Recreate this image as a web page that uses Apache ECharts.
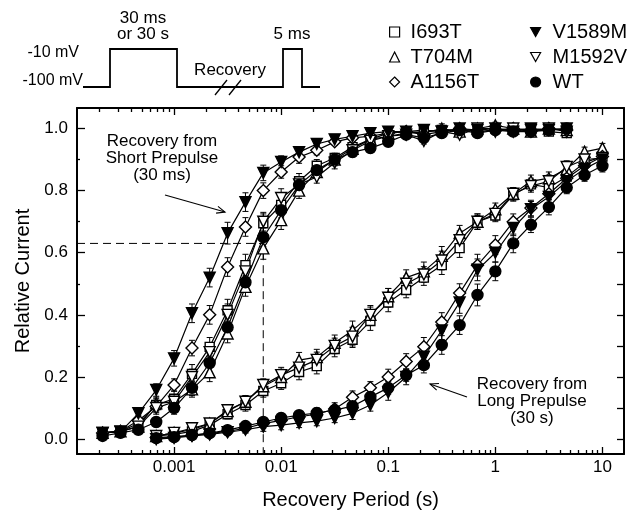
<!DOCTYPE html>
<html>
<head>
<meta charset="UTF-8">
<title>Recovery from inactivation</title>
<script src="https://cdn.jsdelivr.net/npm/echarts@6/dist/echarts.min.js"></script>
<style>html,body{margin:0;padding:0;background:#fff}</style>
</head>
<body>
<div id="chart" style="width:633px;height:515px;"></div>
<script>
// recovery periods (s), 6 points per decade
const SHORT_T = [0.000215, 0.000316, 0.000464, 0.000681, 0.001, 0.00147, 0.00215, 0.00316, 0.00464, 0.00681,
  0.01, 0.0147, 0.0215, 0.0316, 0.0464, 0.0681, 0.1, 0.147, 0.215, 0.316, 0.464, 0.681, 1, 1.47, 2.15, 3.16, 4.64];
const LONG_T = [0.000681, 0.001, 0.00147, 0.00215, 0.00316, 0.00464, 0.00681, 0.01, 0.0147, 0.0215, 0.0316,
  0.0464, 0.0681, 0.1, 0.147, 0.215, 0.316, 0.464, 0.681, 1, 1.47, 2.15, 3.16, 4.64, 6.81, 10];

// short prepulse (30 ms)
const S_I693T  = [0.02,0.025,0.05,0.11,0.13,0.21,0.297,0.415,0.56,0.695,0.754,0.83,0.88,0.905,0.94,0.965,0.975,0.985,0.99,0.995,0.99,1.0,1.0,0.995,1.0,0.99,0.985];
const S_T704M  = [0.02,0.025,0.04,0.115,0.12,0.16,0.215,0.34,0.49,0.614,0.705,0.80,0.86,0.90,0.935,0.965,0.985,0.99,0.985,1.0,0.99,1.0,1.01,1.0,0.99,1.0,0.995];
const S_A1156T = [0.02,0.025,0.06,0.105,0.174,0.293,0.40,0.554,0.683,0.80,0.86,0.908,0.93,0.957,0.97,0.975,0.985,0.99,0.98,0.99,1.0,0.99,0.995,1.0,0.99,1.0,0.995];
const S_V1589M = [0.02,0.023,0.083,0.158,0.26,0.405,0.52,0.663,0.763,0.857,0.892,0.924,0.95,0.965,0.975,0.985,0.99,0.99,0.995,0.99,1.0,0.995,1.0,0.99,1.0,0.995,1.0];
const S_M1592V = [0.02,0.025,0.04,0.10,0.12,0.2,0.28,0.40,0.54,0.70,0.776,0.82,0.844,0.89,0.93,0.96,0.975,0.98,0.96,0.99,0.98,1.0,0.99,1.0,0.995,1.0,0.99];
const S_WT     = [0.01,0.02,0.03,0.055,0.10,0.165,0.245,0.36,0.505,0.65,0.737,0.818,0.866,0.90,0.924,0.937,0.957,0.98,0.97,0.985,0.995,0.985,0.995,0.99,0.99,0.995,1.0];

// long prepulse (30 s)
const L_I693T  = [0.01,0.015,0.025,0.045,0.08,0.11,0.155,0.18,0.216,0.235,0.29,0.32,0.38,0.44,0.48,0.52,0.56,0.615,0.70,0.72,0.786,0.82,0.81,0.845,0.89,0.91];
const L_T704M  = [0.01,0.02,0.03,0.05,0.09,0.12,0.17,0.2,0.254,0.264,0.31,0.35,0.40,0.46,0.52,0.54,0.59,0.663,0.70,0.74,0.79,0.83,0.84,0.87,0.925,0.937];
const L_A1156T = [0.005,0.008,0.012,0.018,0.025,0.035,0.05,0.06,0.072,0.08,0.097,0.135,0.165,0.2,0.25,0.297,0.377,0.47,0.56,0.625,0.70,0.744,0.79,0.84,0.88,0.91];
const L_V1589M = [0.0,0.004,0.01,0.015,0.022,0.03,0.04,0.045,0.052,0.058,0.068,0.083,0.11,0.15,0.2,0.265,0.35,0.44,0.545,0.6,0.68,0.74,0.78,0.83,0.87,0.9];
const L_M1592V = [0.01,0.02,0.035,0.05,0.093,0.12,0.174,0.206,0.23,0.255,0.30,0.33,0.40,0.455,0.50,0.53,0.575,0.64,0.70,0.725,0.79,0.815,0.83,0.876,0.90,0.905];
const L_WT     = [0.003,0.006,0.013,0.019,0.029,0.042,0.055,0.068,0.077,0.084,0.093,0.106,0.136,0.165,0.206,0.238,0.303,0.367,0.464,0.54,0.63,0.69,0.747,0.81,0.85,0.88];

// error bars (SEM)
const SE_I693T  = [0.01,0.01,0.015,0.02,0.025,0.03,0.03,0.035,0.035,0.03,0.03,0.025,0.02,0.015,0.015,0.01,0.01,0.01,0.01,0.01,0.01,0.01,0.01,0.01,0.01,0.01,0.01];
const SE_T704M  = [0.01,0.01,0.015,0.02,0.02,0.025,0.03,0.03,0.03,0.035,0.03,0.025,0.02,0.02,0.015,0.01,0.01,0.01,0.01,0.015,0.01,0.01,0.01,0.01,0.01,0.01,0.01];
const SE_A1156T = [0.01,0.01,0.015,0.02,0.02,0.025,0.03,0.03,0.03,0.025,0.02,0.02,0.015,0.01,0.01,0.01,0.01,0.01,0.01,0.01,0.01,0.01,0.01,0.01,0.01,0.01,0.01];
const SE_V1589M = [0.01,0.01,0.015,0.02,0.025,0.03,0.03,0.035,0.03,0.025,0.02,0.015,0.015,0.01,0.01,0.01,0.01,0.01,0.01,0.01,0.01,0.01,0.01,0.01,0.01,0.01,0.01];
const SE_M1592V = [0.01,0.01,0.015,0.02,0.02,0.025,0.03,0.035,0.03,0.03,0.03,0.025,0.02,0.02,0.015,0.01,0.01,0.015,0.01,0.01,0.01,0.01,0.01,0.01,0.01,0.01,0.01];
const SE_WT     = [0.01,0.01,0.01,0.015,0.02,0.025,0.03,0.03,0.03,0.03,0.025,0.02,0.02,0.015,0.015,0.01,0.01,0.01,0.01,0.01,0.01,0.01,0.01,0.01,0.01,0.01,0.01];
const LE_I693T  = [0.01,0.01,0.01,0.015,0.015,0.02,0.02,0.02,0.025,0.025,0.025,0.025,0.03,0.03,0.025,0.025,0.03,0.03,0.025,0.02,0.02,0.02,0.02,0.02,0.015,0.015];
const LE_T704M  = [0.01,0.01,0.01,0.015,0.015,0.02,0.02,0.025,0.025,0.025,0.025,0.03,0.03,0.025,0.025,0.03,0.03,0.025,0.02,0.02,0.02,0.02,0.02,0.02,0.015,0.015];
const LE_A1156T = [0.01,0.01,0.01,0.01,0.01,0.015,0.015,0.015,0.015,0.02,0.02,0.02,0.02,0.025,0.025,0.03,0.03,0.03,0.035,0.03,0.025,0.025,0.02,0.02,0.015,0.015];
const LE_V1589M = [0.01,0.01,0.01,0.01,0.01,0.01,0.015,0.015,0.015,0.015,0.015,0.02,0.02,0.025,0.025,0.03,0.03,0.035,0.035,0.03,0.025,0.025,0.02,0.02,0.015,0.015];
const LE_M1592V = [0.01,0.01,0.01,0.015,0.015,0.02,0.02,0.025,0.02,0.025,0.025,0.03,0.025,0.03,0.025,0.025,0.03,0.03,0.025,0.02,0.02,0.02,0.02,0.02,0.015,0.015];
const LE_WT     = [0.01,0.01,0.01,0.01,0.01,0.01,0.01,0.015,0.015,0.015,0.015,0.015,0.02,0.02,0.02,0.025,0.03,0.03,0.035,0.03,0.03,0.025,0.025,0.02,0.02,0.02];

// axes
const X_RANGE = [0.000124, 15.9];
const Y_RANGE = [-0.048, 1.066];
const X_MAJOR = [0.001, 0.01, 0.1, 1, 10];
const X_LABELS = ['0.001', '0.01', '0.1', '1', '10'];
const X_MINOR = [0.0002,0.0003,0.0004,0.0005,0.0006,0.0007,0.0008,0.0009,
  0.002,0.003,0.004,0.005,0.006,0.007,0.008,0.009,
  0.02,0.03,0.04,0.05,0.06,0.07,0.08,0.09,
  0.2,0.3,0.4,0.5,0.6,0.7,0.8,0.9,
  2,3,4,5,6,7,8,9];
const Y_MAJOR = [0, 0.2, 0.4, 0.6, 0.8, 1.0];
const Y_LABELS = ['0.0', '0.2', '0.4', '0.6', '0.8', '1.0'];
const Y_MINOR = [0.1, 0.3, 0.5, 0.7, 0.9];
const Y_RIGHT = [0, 0.1, 0.2, 0.3, 0.4, 0.5, 0.6, 0.7, 0.8, 0.9, 1.0];

// time constant guide (dashed)
const DASH_T = [0.000124, 0.0068, 0.0068];
const DASH_V = [0.63, 0.63, -0.048];

const FONT = '"Liberation Sans", Arial, sans-serif';
const lg = Math.log10;
const BLACK = '#000';

const MARKS = {
  I693T:  { symbol: 'rect', size: 9, fill: '#fff', rotate: 0 },
  T704M:  { symbol: 'triangle', size: 11, fill: '#fff', rotate: 0 },
  A1156T: { symbol: 'diamond', size: 12, fill: '#fff', rotate: 0 },
  M1592V: { symbol: 'triangle', size: 11, fill: '#fff', rotate: 180 },
  V1589M: { symbol: 'triangle', size: 11, fill: '#000', rotate: 180 },
  WT:     { symbol: 'circle', size: 11, fill: '#000', rotate: 0 }
};

const groups = [
  ['I693T', S_I693T, SE_I693T, L_I693T, LE_I693T],
  ['T704M', S_T704M, SE_T704M, L_T704M, LE_T704M],
  ['A1156T', S_A1156T, SE_A1156T, L_A1156T, LE_A1156T],
  ['M1592V', S_M1592V, SE_M1592V, L_M1592V, LE_M1592V],
  ['V1589M', S_V1589M, SE_V1589M, L_V1589M, LE_V1589M],
  ['WT', S_WT, SE_WT, L_WT, LE_WT]
];

function lineSeries(name, ts, vs) {
  const m = MARKS[name];
  return {
    name: name, type: 'line', xAxisIndex: 0, yAxisIndex: 0,
    data: ts.map((t, i) => [lg(t), vs[i]]),
    symbol: m.symbol, symbolSize: m.size, symbolRotate: m.rotate,
    lineStyle: { color: BLACK, width: 1.2 },
    itemStyle: { color: m.fill, borderColor: BLACK, borderWidth: 1.4 },
    emphasis: { disabled: true },
    z: 3
  };
}

function errSeries(ts, vs, es) {
  return {
    type: 'custom', xAxisIndex: 0, yAxisIndex: 0, z: 2,
    data: ts.map((t, i) => [lg(t), vs[i], es[i]]),
    renderItem: function (params, api) {
      const x = api.value(0), y = api.value(1), e = api.value(2);
      const top = api.coord([x, y + e]);
      const bot = api.coord([x, y - e]);
      const st = { stroke: BLACK, lineWidth: 1 };
      return {
        type: 'group',
        children: [
          { type: 'line', shape: { x1: top[0], y1: top[1], x2: bot[0], y2: bot[1] }, style: st },
          { type: 'line', shape: { x1: top[0] - 3, y1: top[1], x2: top[0] + 3, y2: top[1] }, style: st },
          { type: 'line', shape: { x1: bot[0] - 3, y1: bot[1], x2: bot[0] + 3, y2: bot[1] }, style: st }
        ]
      };
    }
  };
}

const series = [];
groups.forEach(g => {
  series.push(errSeries(SHORT_T, g[1], g[2]));
  series.push(errSeries(LONG_T, g[3], g[4]));
});
groups.forEach(g => {
  series.push(lineSeries(g[0], SHORT_T, g[1]));
  series.push(lineSeries(g[0], LONG_T, g[3]));
});
series.push({
  type: 'line', xAxisIndex: 0, yAxisIndex: 0, symbol: 'none', z: 1,
  data: DASH_T.map((t, i) => [lg(t), DASH_V[i]]),
  lineStyle: { color: BLACK, width: 1, type: [8, 5] }
});

const tickStyle = { color: BLACK, width: 1.3 };
const xBase = {
  type: 'value', min: lg(X_RANGE[0]), max: lg(X_RANGE[1]),
  splitLine: { show: false },
  axisLine: { onZero: false, lineStyle: { color: BLACK, width: 2 } }
};
const yBase = {
  type: 'value', min: Y_RANGE[0], max: Y_RANGE[1],
  splitLine: { show: false },
  axisLine: { onZero: false, lineStyle: { color: BLACK, width: 2 } }
};
const X_MAJOR_LOG = X_MAJOR.map(lg);
const X_MINOR_LOG = X_MINOR.map(lg);

function nearestLabel(vals, labels, v) {
  let best = 0;
  vals.forEach((a, i) => { if (Math.abs(a - v) < Math.abs(vals[best] - v)) best = i; });
  return labels[best];
}

function legendItem(name) {
  const m = MARKS[name];
  let icon = m.symbol;
  if (m.rotate === 180) icon = 'path://M0,0L20,0L10,18Z';
  return { name: name, icon: icon, itemStyle: { color: m.fill, borderColor: BLACK, borderWidth: 1.2 } };
}

function arrow(x1, y1, x2, y2) {
  const dx = x2 - x1, dy = y2 - y1, len = Math.sqrt(dx * dx + dy * dy);
  const ux = dx / len, uy = dy / len, h = 9, a = 0.4;
  const c = Math.cos(a), s = Math.sin(a);
  const p1 = [x2 - h * (ux * c - uy * s), y2 - h * (ux * s + uy * c)];
  const p2 = [x2 - h * (ux * c + uy * s), y2 - h * (-ux * s + uy * c)];
  return [
    { type: 'line', shape: { x1: x1, y1: y1, x2: x2, y2: y2 }, style: { stroke: BLACK, lineWidth: 1.1 } },
    { type: 'polyline', shape: { points: [p1, [x2, y2], p2] }, style: { stroke: BLACK, lineWidth: 1.1, fill: null } }
  ];
}

function label(text, x, y, size, align) {
  return {
    type: 'text', x: x, y: y,
    style: { text: text, fill: BLACK, font: size + 'px ' + FONT, fontSize: size, fontFamily: FONT,
      textAlign: align || 'center', align: align || 'center',
      textVerticalAlign: 'middle', verticalAlign: 'middle', lineHeight: 17 }
  };
}

const graphic = [
  // protocol diagram
  { type: 'polyline', shape: { points: [[83,87],[110,87],[110,49],[177,49],[177,87],[283,87],[283,49],[302,49],[302,87],[320,87]] },
    style: { stroke: BLACK, lineWidth: 1.8, fill: null } },
  { type: 'line', shape: { x1: 215, y1: 95, x2: 227, y2: 80 }, style: { stroke: BLACK, lineWidth: 1.3 } },
  { type: 'line', shape: { x1: 229, y1: 95, x2: 241, y2: 80 }, style: { stroke: BLACK, lineWidth: 1.3 } },
  label('-10 mV', 79, 53, 16, 'right'),
  label('-100 mV', 83, 81, 16, 'right'),
  label('30 ms', 143, 18, 17),
  label('or 30 s', 143, 34, 17),
  label('Recovery', 230, 70, 17),
  label('5 ms', 292, 34, 17),
  // annotations
  label('Recovery from\nShort Prepulse\n(30 ms)', 162, 158, 17),
  label('Recovery from\nLong Prepulse\n(30 s)', 532, 401, 17)
].concat(arrow(165, 195, 225, 212), arrow(467, 397, 430, 384));

const chart = echarts.init(document.getElementById('chart'));
chart.setOption({
  backgroundColor: '#fff',
  animation: false,
  textStyle: { fontFamily: FONT, color: BLACK },
  grid: { left: 77, right: 9, top: 108, bottom: 61, containLabel: false },
  legend: [
    { left: 384, top: 17, orient: 'vertical', itemWidth: 10, itemHeight: 10, itemGap: 5, selectedMode: false,
      textStyle: { fontSize: 20, fontFamily: FONT, color: BLACK, padding: [0, 0, 0, 6] },
      data: ['I693T', 'T704M', 'A1156T'].map(legendItem) },
    { left: 525, top: 17, orient: 'vertical', itemWidth: 10, itemHeight: 10, itemGap: 5, selectedMode: false,
      textStyle: { fontSize: 20, fontFamily: FONT, color: BLACK, padding: [0, 0, 0, 7] },
      data: ['V1589M', 'M1592V', 'WT'].map(legendItem) }
  ],
  xAxis: [
    Object.assign({}, xBase, {
      position: 'bottom',
      axisTick: { inside: true, length: 7, customValues: X_MAJOR_LOG, lineStyle: tickStyle },
      axisLabel: { customValues: X_MAJOR_LOG, fontSize: 17, color: BLACK, fontFamily: FONT, margin: 5,
        formatter: v => nearestLabel(X_MAJOR_LOG, X_LABELS, v) },
      name: 'Recovery Period (s)', nameLocation: 'middle', nameGap: 36,
      nameTextStyle: { fontSize: 20, fontFamily: FONT, color: BLACK }
    }),
    Object.assign({}, xBase, {
      position: 'bottom', axisLine: { show: false, onZero: false },
      axisTick: { inside: true, length: 4, customValues: X_MINOR_LOG, lineStyle: tickStyle },
      axisLabel: { show: false }
    }),
    Object.assign({}, xBase, {
      position: 'top',
      axisTick: { inside: true, length: 7, customValues: X_MAJOR_LOG, lineStyle: tickStyle },
      axisLabel: { show: false }
    }),
    Object.assign({}, xBase, {
      position: 'top', axisLine: { show: false, onZero: false },
      axisTick: { inside: true, length: 4, customValues: X_MINOR_LOG, lineStyle: tickStyle },
      axisLabel: { show: false }
    })
  ],
  yAxis: [
    Object.assign({}, yBase, {
      position: 'left',
      axisTick: { inside: true, length: 8, customValues: Y_MAJOR, lineStyle: tickStyle },
      axisLabel: { customValues: Y_MAJOR, fontSize: 17, color: BLACK, fontFamily: FONT, margin: 9,
        formatter: v => nearestLabel(Y_MAJOR, Y_LABELS, v) },
      name: 'Relative Current', nameLocation: 'middle', nameGap: 39,
      nameTextStyle: { fontSize: 20, fontFamily: FONT, color: BLACK }
    }),
    Object.assign({}, yBase, {
      position: 'left', axisLine: { show: false, onZero: false },
      axisTick: { inside: true, length: 3, customValues: Y_MINOR, lineStyle: tickStyle },
      axisLabel: { show: false }
    }),
    Object.assign({}, yBase, {
      position: 'right',
      axisTick: { inside: true, length: 7, customValues: Y_RIGHT, lineStyle: tickStyle },
      axisLabel: { show: false }
    })
  ],
  graphic: graphic,
  series: series
});
</script>
</body>
</html>
